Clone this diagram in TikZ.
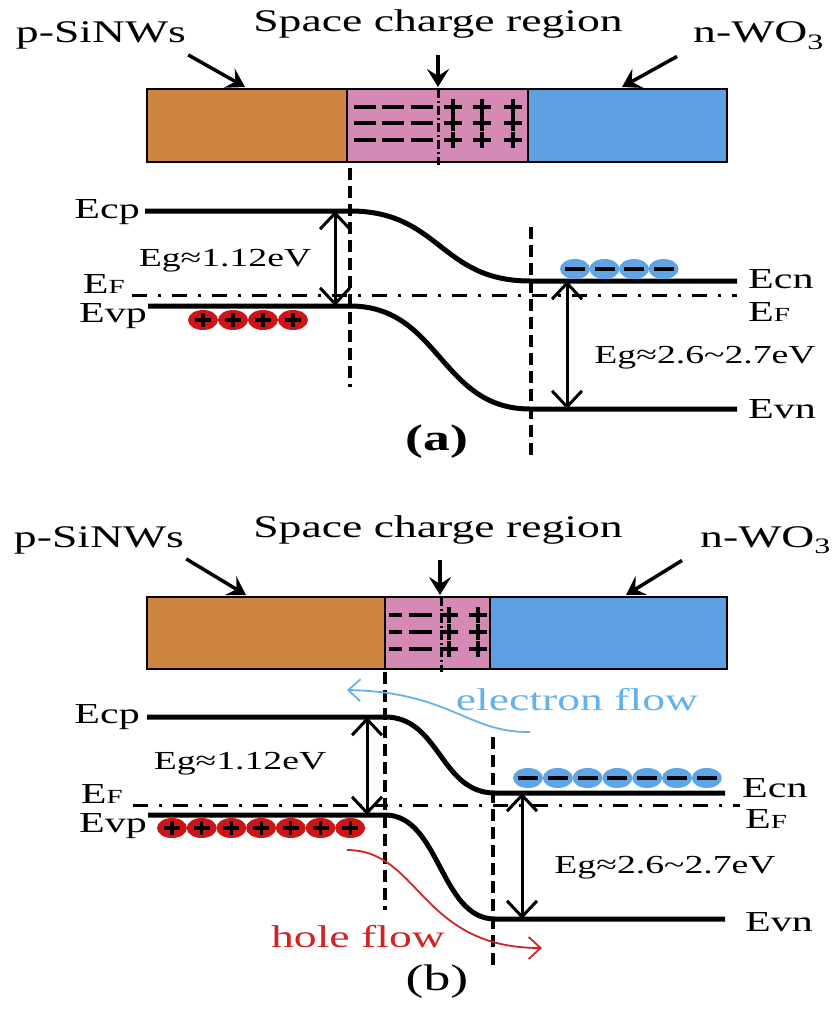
\documentclass[tikz,border=0pt]{standalone}
\usepackage{fontspec}
\setmainfont[FakeStretch=1.45]{Liberation Serif}
\usetikzlibrary{arrows.meta}
\definecolor{siorange}{RGB}{205,133,63}
\definecolor{scpink}{RGB}{213,137,181}
\definecolor{woblue}{RGB}{94,161,227}
\definecolor{holered}{RGB}{204,22,22}
\definecolor{elblue}{RGB}{95,165,230}
\definecolor{eflowblue}{RGB}{100,178,235}
\definecolor{hflowred}{RGB}{210,35,35}
\newcommand\Ef{E{\fontsize{20}{20}\selectfont F}}
\newcommand\tld{\char126\relax}
\begin{document}
\begin{tikzpicture}[x=1pt, y=-1pt,
  lab/.style={font=\fontsize{31.5}{33}\selectfont, inner sep=0pt},
  lev/.style={font=\fontsize{29}{30}\selectfont, inner sep=0pt},
  gaplab/.style={font=\fontsize{26}{27}\selectfont, inner sep=0pt},
  layer/.style={line width=2pt},
  band/.style={line width=5pt},
  fermi/.style={line width=3pt, dash pattern=on 15pt off 11pt on 3pt off 11pt},
  junc/.style={line width=4pt, dash pattern=on 12pt off 6pt},
  split/.style={line width=3pt, dash pattern=on 9pt off 3pt on 2pt off 3pt},
  gap/.style={line width=3pt, {Straight Barb[length=16pt,width=30pt]}-{Straight Barb[length=16pt,width=30pt]}},
  point/.style={line width=3.5pt, -{Stealth[length=18pt,width=22pt,inset=7pt]}},
  charge/.style={line width=3.2pt},
  flow/.style={line width=1.8pt, -{Straight Barb[length=12pt,width=22pt]}}]
  \useasboundingbox (0,0) rectangle (834,1011);
  % (a) the three layers with the fixed charges
  \filldraw[layer, fill=siorange] (147,89) rectangle (347,162);
  \filldraw[layer, fill=scpink] (347,89) rectangle (528,162);
  \filldraw[layer, fill=woblue] (528,89) rectangle (727,162);
  \foreach \y in {107,123,140} {
    \foreach \x in {354,382,411} { \draw[charge] (\x,\y) -- ++(22,0); }
    \foreach \x in {453,482,513} { \draw[charge] (\x-9,\y) -- (\x+9,\y) (\x,\y-8) -- (\x,\y+8); }
  }
  \draw[split] (438,89) -- (438,165);
  \node[lab, anchor=base] (pA) at (101,43) {p-SiNWs};
  \node[lab, anchor=base] (scA) at (438,32) {Space charge region};
  \node[lab, anchor=base west] (nA) at (693,43) {n-WO\textsubscript{3}};
  \coordinate (pAtip) at (245,87); \coordinate (scAtip) at (438,87); \coordinate (nAtip) at (622,87);
  \draw[point] (pA.south east) ++(2,5) -- (pAtip);
  \draw[point] (scA.south) ++(0,16) -- (scAtip);
  \draw[point] (nA.south west) ++(-16,7) -- (nAtip);
  % (a) the bands
  \draw[band] (145,211) -- (350,211) .. controls (440,211) and (440,281) .. (530,281) -- (737,281);
  \draw[band] (148,306) -- (350,306) .. controls (440,306) and (440,409) .. (530,409) -- (737,409);
  \draw[fermi] (132,295) -- (737,295);
  \draw[junc] (350,168) -- (350,387);
  \draw[junc] (531,227) -- (531,458);
  \draw[gap] (335,211) -- (335,306);
  \draw[gap] (567,281) -- (567,409);
  \foreach \x in {203,233,263,293} {
    \fill[holered] (\x,320) ellipse [x radius=15pt, y radius=10pt];
    \draw[charge] (\x-8,320) -- (\x+8,320) (\x,313) -- (\x,327);
  }
  \foreach \x in {575,604.5,634,663.5} {
    \fill[elblue] (\x,269) ellipse [x radius=15pt, y radius=10pt];
    \draw[charge] (\x-10,269) -- (\x+10,269);
  }
  \node[lev, anchor=base east] (ecpA) at (140,218) {Ecp};
  \node[lev, anchor=base east] (efpA) at (125,293) {\Ef};
  \node[lev, anchor=base east] (evpA) at (147,322) {Evp};
  \node[lev, anchor=base west] (ecnA) at (748,288) {Ecn};
  \node[lev, anchor=base west] (efnA) at (748,321) {\Ef};
  \node[lev, anchor=base west] (evnA) at (748,418) {Evn};
  \node[gaplab, anchor=base] (egpA) at (225,266) {Eg≈1.12eV};
  \node[gaplab, anchor=base] (egnA) at (705,363) {Eg≈2.6\tld 2.7eV};
  \node[font=\bfseries\fontsize{37}{40}\selectfont, inner sep=0pt, anchor=base] (capA) at (437,450) {(a)};
  % (b) the three layers, narrower space charge region
  \filldraw[layer, fill=siorange] (147,597) rectangle (385,669);
  \filldraw[layer, fill=scpink] (385,597) rectangle (490,669);
  \filldraw[layer, fill=woblue] (490,597) rectangle (727,669);
  \foreach \y in {615,632,649} {
    \draw[charge] (389,\y) -- (402,\y) (409,\y) -- (432,\y);
    \foreach \x in {449,478} { \draw[charge] (\x-9,\y) -- (\x+9,\y) (\x,\y-8) -- (\x,\y+8); }
  }
  \draw[split] (441,597) -- (441,672);
  \node[lab, anchor=base] (pB) at (99,547) {p-SiNWs};
  \node[lab, anchor=base] (scB) at (438,537) {Space charge region};
  \node[lab, anchor=base west] (nB) at (700,547) {n-WO\textsubscript{3}};
  \coordinate (pBtip) at (246,595); \coordinate (scBtip) at (440,595); \coordinate (nBtip) at (626,595);
  \draw[point] (pB.south east) ++(2,5) -- (pBtip);
  \draw[point] (scB.south) ++(2,16) -- (scBtip);
  \draw[point] (nB.south west) ++(-18,7) -- (nBtip);
  % (b) the bands and the flows
  \draw[band] (147,717) -- (385,717) .. controls (440,717) and (440,793) .. (495,793) -- (725,793);
  \draw[band] (148,815) -- (385,815) .. controls (440,815) and (440,919) .. (495,919) -- (725,919);
  \draw[fermi] (133,805) -- (740,805);
  \draw[junc] (385,672) -- (385,910);
  \draw[junc] (493,737) -- (493,967);
  \draw[gap] (367,717) -- (367,815);
  \draw[gap] (522,793) -- (522,919);
  \foreach \i in {0,...,6} {
    \fill[holered] (172+29.7*\i,828) ellipse [x radius=15pt, y radius=10pt];
    \draw[charge] (164+29.7*\i,828) -- (180+29.7*\i,828) (172+29.7*\i,821) -- (172+29.7*\i,835);
  }
  \foreach \i in {0,...,6} {
    \fill[elblue] (528+29.8*\i,778) ellipse [x radius=15pt, y radius=10pt];
    \draw[charge] (518+29.8*\i,778) -- (538+29.8*\i,778);
  }
  \node[lev, anchor=base east] (ecpB) at (140,723) {Ecp};
  \node[lev, anchor=base east] (efpB) at (123,803) {\Ef};
  \node[lev, anchor=base east] (evpB) at (147,832) {Evp};
  \node[lev, anchor=base west] (ecnB) at (742,797) {Ecn};
  \node[lev, anchor=base west] (efnB) at (745,828) {\Ef};
  \node[lev, anchor=base west] (evnB) at (745,931) {Evn};
  \node[gaplab, anchor=base] (egpB) at (240,769) {Eg≈1.12eV};
  \node[gaplab, anchor=base] (egnB) at (665,873) {Eg≈2.6\tld 2.7eV};
  \node[lab, text=eflowblue, anchor=base] (elflow) at (577,710) {electron flow};
  \node[lab, text=hflowred, anchor=base] (hoflow) at (358,947) {hole flow};
  \coordinate (elS) at (530,732); \coordinate (elE) at (347,690);
  \coordinate (hoS) at (347,850); \coordinate (hoE) at (542,948);
  \draw[flow, eflowblue] (elS) .. controls (468,733) and (450,692) .. (elE);
  \draw[flow, hflowred] (hoS) .. controls (420,850) and (420,948) .. (hoE);
  \node[font=\fontsize{37}{40}\selectfont, inner sep=0pt, anchor=base] (capB) at (437,990) {(b)};
\end{tikzpicture}
\end{document}
